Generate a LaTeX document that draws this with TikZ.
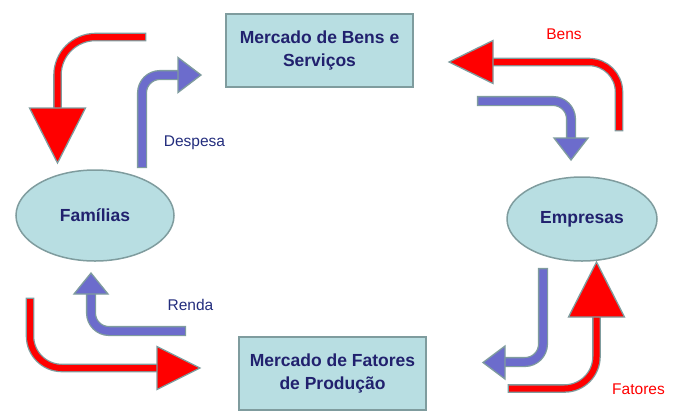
\documentclass[tikz,border=0pt]{standalone}
\usepackage{fontspec}
\setmainfont{Liberation Sans}
\usetikzlibrary{shapes.geometric}

\definecolor{boxfill}{RGB}{184,222,226}
\definecolor{edgegray}{RGB}{127,156,158}
\definecolor{navytext}{RGB}{33,33,110}
\definecolor{labelblue}{RGB}{35,45,125}
\definecolor{flowblue}{RGB}{108,108,204}
\definecolor{flowred}{RGB}{255,0,0}

\begin{document}
\begin{tikzpicture}[x=1pt, y=-1pt]
        % Block and flow styles
        \tikzstyle{market} = [rectangle, draw=edgegray, line width=2pt, fill=boxfill,
                              minimum width=187pt, minimum height=73pt, align=center,
                              text=navytext, font=\fontsize{17.5}{23}\selectfont\bfseries]
        \tikzstyle{agent} = [ellipse, draw=edgegray, line width=1.5pt, fill=boxfill, inner sep=0pt,
                             text=navytext, font=\fontsize{17.5}{21}\selectfont\bfseries]
        \tikzstyle{flowlabel} = [font=\fontsize{15.5}{18}\selectfont, inner sep=0pt]
        \tikzstyle{redshaft} = [draw=edgegray, line width=1.3pt, double=flowred, double distance=6pt,
                                line cap=rect, rounded corners=32pt]
        \tikzstyle{blueshaft} = [draw=edgegray, line width=1.3pt, double=flowblue, double distance=7.5pt,
                                 line cap=rect, rounded corners=18pt]
        \tikzstyle{redhead} = [draw=edgegray, line width=1.3pt, fill=flowred, line join=miter]
        \tikzstyle{bluehead} = [draw=edgegray, line width=1.3pt, fill=flowblue, line join=miter]

        \useasboundingbox (0,0) rectangle (677,416);

        % Markets and agents
        \node (bens) [market] at (319.5,50.5) {Mercado de Bens e\\Serviços};
        \node (fatores) [market] at (332.5,373.5) {Mercado de Fatores\\de Produção};
        \node (familias) [agent, minimum width=158pt, minimum height=91pt] at (95,215.5) {Famílias};
        \node (empresas) [agent, minimum width=150pt, minimum height=84pt] at (582,219) {Empresas};

        % Labels
        \node (despesa) [flowlabel, text=labelblue] at (194.5,143) {Despesa};
        \node (renda) [flowlabel, text=labelblue] at (190.5,305) {Renda};
        \node (bensLbl) [flowlabel, text=flowred] at (564,34) {Bens};
        \node (fatoresLbl) [flowlabel, text=flowred] at (638.5,389) {Fatores};

        % Flow points
        \coordinate (bensFamS) at (142,37);    \coordinate (bensFamE) at (57.5,112);  \coordinate (bensFamT) at (57.5,163);
        \coordinate (despesaS) at (142,163);   \coordinate (despesaE) at (181,75);    \coordinate (despesaT) at (201,75);
        \coordinate (bensEmpS) at (619,127);   \coordinate (bensEmpE) at (496,62);    \coordinate (bensEmpT) at (449,62);
        \coordinate (receitaS) at (482,101);   \coordinate (receitaE) at (571,140);   \coordinate (receitaT) at (571,160);
        \coordinate (rendaS) at (181,331);     \coordinate (rendaE) at (91,296);      \coordinate (rendaT) at (91,273);
        \coordinate (fatFamS) at (30,302);     \coordinate (fatFamE) at (160,368);    \coordinate (fatFamT) at (200,368);
        \coordinate (salarioS) at (543,273);   \coordinate (salarioE) at (507,362);   \coordinate (salarioT) at (483,362.5);
        \coordinate (fatEmpS) at (512,388.5);  \coordinate (fatEmpE) at (596.5,320);  \coordinate (fatEmpT) at (596.5,262);

        % Shafts
        \draw [redshaft, rounded corners=38pt] (bensFamS) -| (bensFamE);
        \draw [blueshaft] (despesaS) |- (despesaE);
        \draw [redshaft, rounded corners=30pt] (bensEmpS) |- (bensEmpE);
        \draw [blueshaft] (receitaS) -| (receitaE);
        \draw [blueshaft] (rendaS) -| (rendaE);
        \draw [redshaft] (fatFamS) |- (fatFamE);
        \draw [blueshaft] (salarioS) |- (salarioE);
        \draw [redshaft] (fatEmpS) -| (fatEmpE);

        % Heads
        \draw [redhead] (bensFamT) -- ++(-28,-55) -- ++(56,0) -- cycle;
        \draw [bluehead] (despesaT) -- ++(-23,-17.5) -- ++(0,35) -- cycle;
        \draw [redhead] (bensEmpT) -- ++(44,-21.5) -- ++(0,43) -- cycle;
        \draw [bluehead] (receitaT) -- ++(-17,-22) -- ++(34,0) -- cycle;
        \draw [bluehead] (rendaT) -- ++(-17,21) -- ++(34,0) -- cycle;
        \draw [redhead] (fatFamT) -- ++(-43,-21.5) -- ++(0,43) -- cycle;
        \draw [bluehead] (salarioT) -- ++(22,-16.5) -- ++(0,33) -- cycle;
        \draw [redhead] (fatEmpT) -- ++(-28,55) -- ++(56,0) -- cycle;
\end{tikzpicture}
\end{document}
